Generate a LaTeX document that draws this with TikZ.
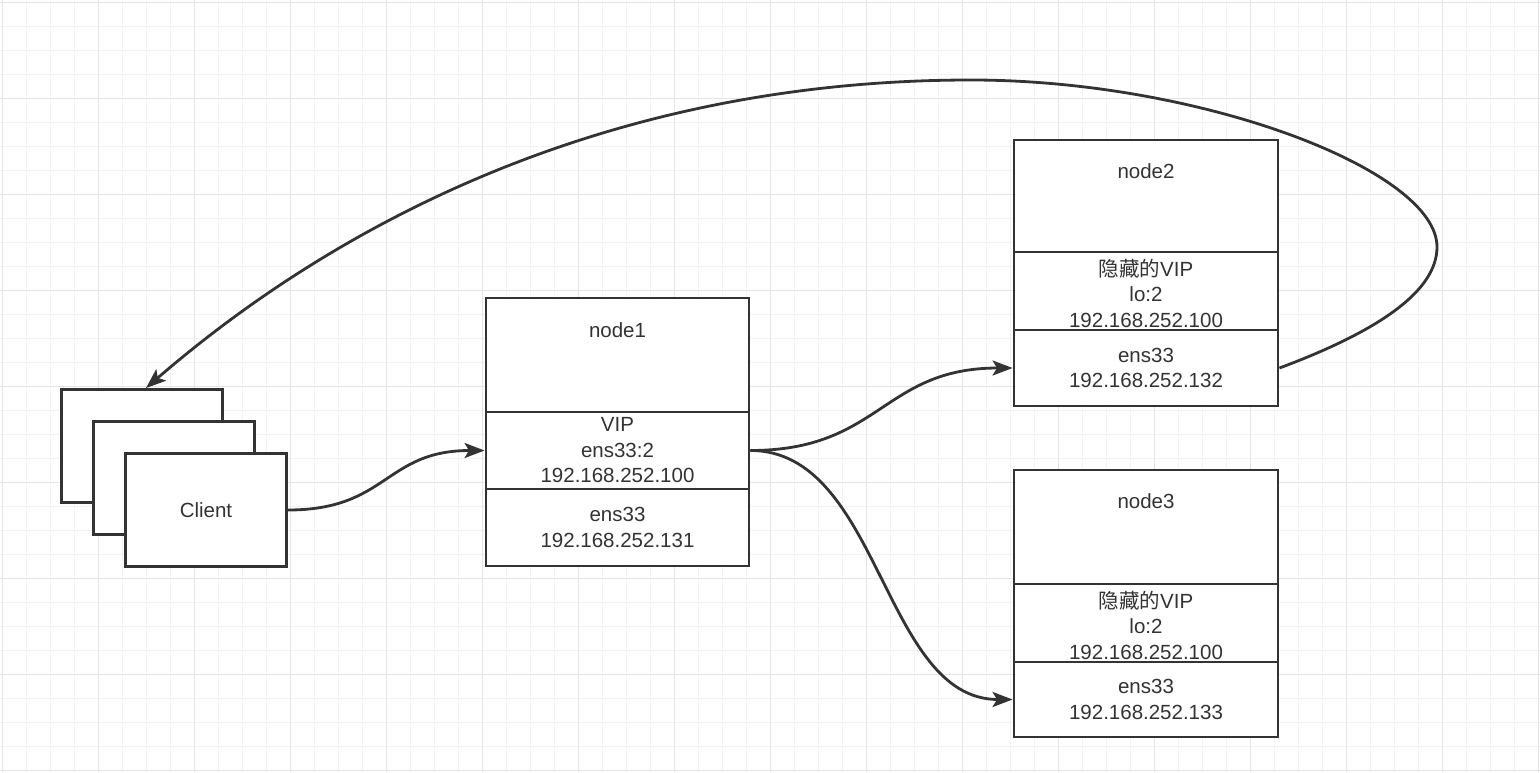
\documentclass[tikz,border=0pt]{standalone}
\usepackage{fontspec}
\setmainfont{Liberation Sans}
\newfontfamily\cjk{Noto Sans CJK SC}
\usetikzlibrary{arrows.meta,calc}
\definecolor{ink}{HTML}{333333}
\definecolor{gridminor}{HTML}{F2F2F2}
\definecolor{gridmajor}{HTML}{E4E4E4}
\begin{document}
\begin{tikzpicture}[x=1bp,y=-1bp,
  box/.style={rectangle,draw=ink,line width=2.9bp,fill=white,inner sep=0pt},
  lbl/.style={text=ink,font=\fontsize{20.5bp}{25.5bp}\selectfont,align=center,inner sep=0pt},
  link/.style={draw=ink,line width=2.8bp,-{Stealth[length=20bp,width=15bp,inset=4.5bp]}}]
\useasboundingbox (0,0) rectangle (1540,772);
\fill[white] (0,0) rectangle (1540,772);
% grid
\foreach \i in {0,...,64}{\draw[gridminor,line width=1bp] ({2.7+24*\i},0) -- ({2.7+24*\i},772);}
\foreach \j in {0,...,32}{\draw[gridminor,line width=1bp] (0,{2.7+24*\j}) -- (1540,{2.7+24*\j});}
\foreach \i in {0,...,16}{\draw[gridmajor,line width=1.3bp] ({2.7+96*\i},0) -- ({2.7+96*\i},772);}
\foreach \j in {0,...,8}{\draw[gridmajor,line width=1.3bp] (0,{2.7+96*\j}) -- (1540,{2.7+96*\j});}
% client stack
\node[box,minimum width=161bp,minimum height=113bp] (back) at (142,446) {};
\node[box,minimum width=161bp,minimum height=113bp] (mid) at (174,478) {};
\node[box,minimum width=161bp,minimum height=113bp] (front) at (206,510) {};
\node[lbl] (clientlbl) at (front.center) {Client};
% node1
\node[box,minimum width=263bp,minimum height=114bp] (n1top) at (617.5,355) {};
\node[box,minimum width=263bp,minimum height=77bp] (n1mid) at (617.5,450.5) {};
\node[box,minimum width=263bp,minimum height=77bp] (n1bot) at (617.5,527.5) {};
\node[lbl] (n1name) at ([yshift=-34bp]n1top.north) {node1};
\node[lbl] (n1vip) at (n1mid.center) {VIP\\ens33:2\\192.168.252.100};
\node[lbl] (n1eth) at (n1bot.center) {ens33\\192.168.252.131};
% node2
\node[box,minimum width=264bp,minimum height=112bp] (n2top) at (1146,196) {};
\node[box,minimum width=264bp,minimum height=78bp] (n2mid) at (1146,291) {};
\node[box,minimum width=264bp,minimum height=76bp] (n2bot) at (1146,368) {};
\node[lbl] (n2name) at ([yshift=-33bp]n2top.north) {node2};
\node[lbl] (n2vip) at ([yshift=-2bp]n2mid.center) {{\cjk 隐藏的}VIP\\lo:2\\192.168.252.100};
\node[lbl] (n2eth) at (n2bot.center) {ens33\\192.168.252.132};
% node3
\node[box,minimum width=264bp,minimum height=114bp] (n3top) at (1146,527) {};
\node[box,minimum width=264bp,minimum height=78bp] (n3mid) at (1146,623) {};
\node[box,minimum width=264bp,minimum height=75bp] (n3bot) at (1146,699.5) {};
\node[lbl] (n3name) at ([yshift=-33bp]n3top.north) {node3};
\node[lbl] (n3vip) at ([yshift=-2bp]n3mid.center) {{\cjk 隐藏的}VIP\\lo:2\\192.168.252.100};
\node[lbl] (n3eth) at (n3bot.center) {ens33\\192.168.252.133};
% connectors
\coordinate (wp1) at (1437,247);
\coordinate (wp2) at (971,80);
\coordinate (cin) at ([xshift=4bp]back.north);
\draw[link] (front.east) .. controls +(100,0) and +(-100,0) .. (n1mid.west);
\draw[link] (n1mid.east) .. controls +(130,0) and +(-130,0) .. (n2bot.west);
\draw[link] (n1mid.east) .. controls +(130,0) and +(-130,0) .. (n3bot.west);
\draw[link] (n2bot.east) .. controls +(102,-38) and +(0,43) .. (wp1)
  .. controls +(0,-77) and +(229,0) .. (wp2)
  .. controls +(-371,0) and +(184,-159) .. (cin);
\end{tikzpicture}
\end{document}
